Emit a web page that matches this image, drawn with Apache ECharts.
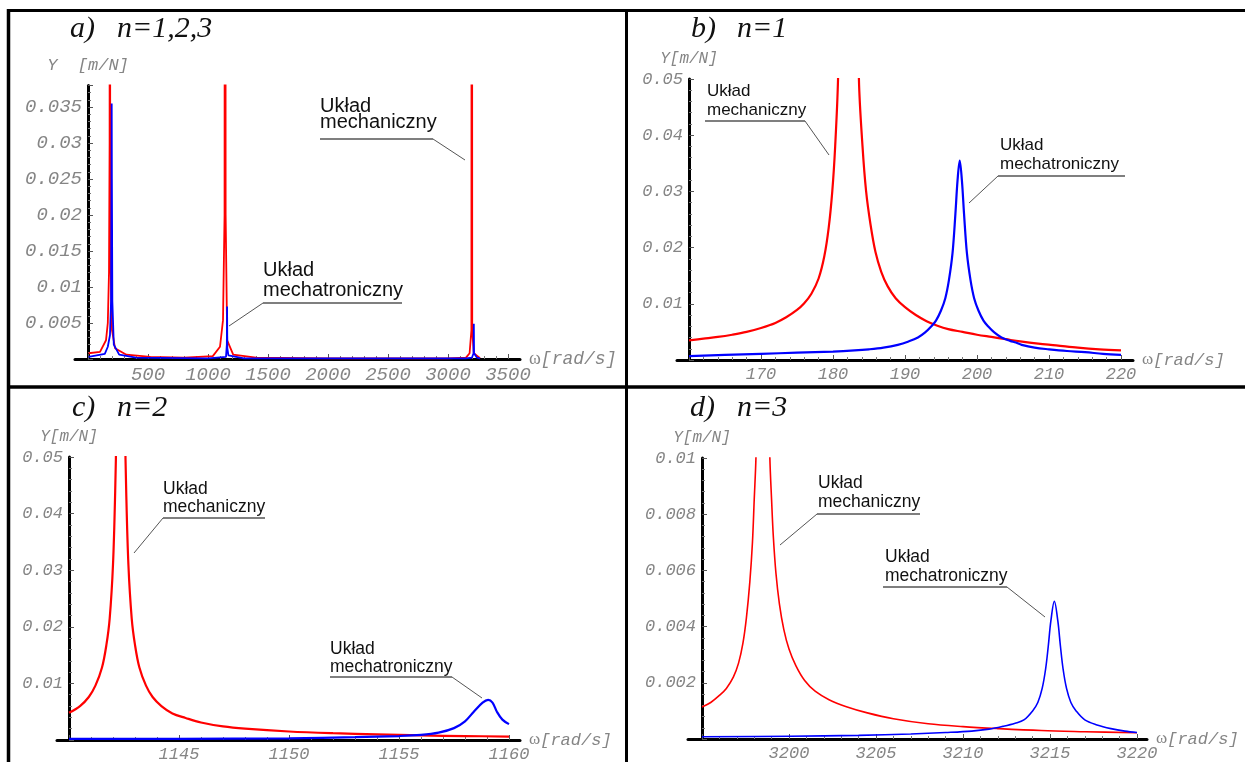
<!DOCTYPE html>
<html><head><meta charset="utf-8">
<script src="https://cdn.jsdelivr.net/npm/echarts@6/dist/echarts.min.js"></script>
<style>html,body{margin:0;padding:0;background:#fff}#c{width:1245px;height:762px}</style>
</head><body><div id="c"></div>
<script>
// ---------- DATA (omega [rad/s], Y [m/N]) ----------
// panel a) n=1,2,3 : mechanical (red) and mechatronic (blue)
const aMech = [[5,0.0008],[100,0.001],[150,0.0026],[165,0.005],[175,0.012],[180,0.03],[182.2,0.2],[185,0.03],[190,0.012],[200,0.004],[225,0.0015],[320,0.0006],[520,0.0003],[800,0.0002],[1040,0.0004],[1100,0.0017],[1125,0.0054],[1138,0.02],[1142.3,0.2],[1147,0.02],[1160,0.0026],[1210,0.0006],[1400,0.0002],[2000,0.0001],[3000,0.0001],[3150,0.0002],[3180,0.0008],[3195,0.004],[3198.5,0.2],[3202,0.004],[3215,0.0008],[3267,0.0001]];
const aMechatr = [[5,0.0003],[140,0.0007],[165,0.0017],[183,0.0033],[192,0.008],[196,0.025],[197.6,0.0355],[199,0.025],[203,0.008],[215,0.002],[260,0.0006],[400,0.0002],[1000,0.0001],[1150,0.0003],[1157,0.002],[1159,0.0073],[1161,0.0015],[1170,0.0005],[1300,0.0001],[3150,0.0001],[3200,0.0002],[3213,0.0008],[3215.2,0.0049],[3217,0.0008],[3240,0.0002],[3267,0.0001]];
// panel b) n=1
const bMech = [[160,0.0035],[162,0.0038],[164,0.0041],[166,0.0045],[168,0.005],[170,0.0057],[172,0.0066],[173.5,0.0076],[175,0.0089],[176,0.0101],[177,0.0118],[178,0.0145],[178.8,0.0185],[179.4,0.0235],[179.9,0.03],[180.3,0.038],[180.7,0.05],[181.5,0.1],[182.2,0.3],[183,0.1],[183.6,0.05],[184.1,0.038],[184.6,0.03],[185.2,0.0242],[185.9,0.0192],[186.7,0.0157],[187.6,0.0131],[188.7,0.011],[190,0.0094],[191.5,0.008],[193,0.0069],[194.5,0.0061],[196,0.0055],[198,0.005],[200,0.0045],[202,0.0041],[204,0.0037],[206,0.0033],[208.5,0.0029],[211,0.0026],[214,0.0022],[217,0.0019],[220,0.0017]];
const bMechatr = [[160,0.0007],[165,0.0009],[170,0.0011],[175,0.0013],[180,0.0015],[183,0.0017],[185,0.0019],[187,0.0022],[189,0.0027],[190.5,0.0033],[191.8,0.004],[192.8,0.0049],[193.6,0.0059],[194.3,0.007],[195,0.0088],[195.6,0.011],[196.1,0.0142],[196.6,0.019],[197,0.026],[197.3,0.032],[197.6,0.0355],[197.9,0.032],[198.2,0.026],[198.6,0.019],[199.1,0.0142],[199.6,0.011],[200.2,0.0088],[200.9,0.007],[201.6,0.0059],[202.4,0.0049],[203.4,0.004],[204.6,0.0034],[205.4,0.0031],[206.2,0.0027],[208,0.0022],[210,0.0019],[212.5,0.0016],[215,0.0014],[217.5,0.0011],[220,0.0009]];
// panel c) n=2
const cMech = [[1140,0.0048],[1140.5,0.006],[1140.9,0.0076],[1141.2,0.0096],[1141.5,0.0128],[1141.7,0.0168],[1141.85,0.0215],[1142,0.031],[1142.1,0.044],[1142.15,0.055],[1142.35,0.15],[1142.55,0.055],[1142.6,0.044],[1142.7,0.031],[1142.85,0.0215],[1143,0.0168],[1143.2,0.0128],[1143.5,0.0096],[1143.8,0.0076],[1144.2,0.006],[1144.7,0.0047],[1145.3,0.0039],[1146,0.0031],[1147,0.0024],[1148,0.002],[1150,0.0015],[1152,0.0012],[1154,0.001],[1156,0.0008],[1158,0.0007],[1160,0.0006]];
const cMechatr = [[1140,0.0002],[1145,0.0002],[1150,0.0003],[1153,0.0005],[1155,0.0007],[1156,0.0009],[1156.8,0.0013],[1157.5,0.0021],[1158,0.0033],[1158.4,0.005],[1158.8,0.0066],[1159.05,0.0071],[1159.25,0.0066],[1159.45,0.005],[1159.7,0.0036],[1160,0.0028]];
// panel d) n=3
const dMech = [[3195,0.00114],[3195.5,0.0013],[3196,0.00155],[3196.4,0.0018],[3196.8,0.0022],[3197.1,0.0027],[3197.35,0.0034],[3197.55,0.0043],[3197.75,0.0056],[3197.9,0.007],[3198,0.0085],[3198.1,0.01],[3198.2,0.013],[3198.5,0.04],[3198.8,0.013],[3198.9,0.01],[3199,0.0085],[3199.1,0.0072],[3199.25,0.0059],[3199.45,0.0048],[3199.7,0.0039],[3200,0.0032],[3200.4,0.0026],[3200.9,0.00208],[3201.5,0.0017],[3202.3,0.0014],[3203.3,0.00115],[3204.5,0.00093],[3206,0.00072],[3208,0.00054],[3210,0.00044],[3212,0.00037],[3214.5,0.0003],[3217,0.00026],[3220,0.00022]];
const dMechatr = [[3195,0.00008],[3200,0.0001],[3204,0.00013],[3207,0.00018],[3209,0.00023],[3210.5,0.00028],[3211.5,0.00035],[3212.3,0.00045],[3213,0.00056],[3213.5,0.00068],[3214,0.001],[3214.3,0.0013],[3214.55,0.0018],[3214.75,0.0025],[3214.9,0.0033],[3215.05,0.0042],[3215.25,0.0049],[3215.45,0.0042],[3215.6,0.0033],[3215.75,0.0025],[3215.95,0.0018],[3216.2,0.0013],[3216.5,0.001],[3217,0.00068],[3217.7,0.0005],[3218.5,0.00037],[3219.3,0.00028],[3220,0.00023]];

// axis ranges / tick steps
const xRanges = [[0,3500,500],[160,220,10],[1140,1160,5],[3195,3220,5]];
const yRanges = [[0,0.038,0.005],[0,0.05,0.01],[0,0.05,0.01],[0,0.01,0.002]];
const titlesLetter = ['a)','b)','c)','d)'];
const titlesN = ['n=1,2,3','n=1','n=2','n=3'];
const yNames = ['Y  [m/N]','Y[m/N]','Y[m/N]','Y[m/N]'];
const xName = '[rad/s]';
const annoTop = 'Układ';
const annoMech = 'mechaniczny';
const annoMechatr = 'mechatroniczny';

// ---------- LAYOUT ----------
const layout = [
  {left:88, top:85.5, width:420, height:273.5, dLeft:75, dWidth:445, fs:19, nfs:17, lw:1.8, sm:false},
  {left:689, top:79, width:432, height:281, dLeft:677, dWidth:456, fs:17, nfs:16, lw:2.2, sm:0.35},
  {left:69, top:457, width:440, height:283, dLeft:57, dWidth:463, fs:17, nfs:16, lw:2.2, sm:0.35},
  {left:702, top:458, width:435, height:281, dLeft:688, dWidth:459, fs:17, nfs:16, lw:1.6, sm:0.35}
];
const seriesData = [[aMech,aMechatr],[bMech,bMechatr],[cMech,cMechatr],[dMech,dMechatr]];
const tickGray = '#858585';
const mono = '"Liberation Mono","Courier New",monospace';

function fmt(min, iv){
  return function(v){
    if (Math.abs(v-min) < iv*1e-6) return '';
    const k = Math.round(v/iv);
    if (Math.abs(v-k*iv) > iv*1e-6) return '';
    return String(parseFloat(v.toFixed(6)));
  };
}

const grid=[], xAxis=[], yAxis=[], series=[];
layout.forEach((L,i)=>{
  const [x0,x1,xi] = xRanges[i], [y0,y1,yi] = yRanges[i];
  grid.push({left:L.left, top:L.top, width:L.width, height:L.height, containLabel:false, outerBoundsMode:'none'});
  grid.push({left:L.dLeft, top:L.top, width:L.dWidth, height:L.height, containLabel:false, outerBoundsMode:'none'});
  const gm = 2*i, gd = 2*i+1;
  const lab = (size)=>({fontFamily:mono, fontStyle:'italic', fontSize:size, color:tickGray});
  xAxis.push({gridIndex:gm, type:'value', min:x0, max:x1, interval:xi,
    axisLine:{show:false}, splitLine:{show:false},
    axisTick:{show:true, inside:true, length:5, lineStyle:{color:'#555', width:1}},
    minorTick:{show:true, splitNumber:5, length:3, lineStyle:{color:'#777', width:1}},
    axisLabel:Object.assign({formatter:fmt(x0,xi), margin:6, showMinLabel:true, showMaxLabel:true}, lab(L.fs))});
  yAxis.push({gridIndex:gm, type:'value', min:y0, max:y1, interval:yi,
    axisLine:{show:true, onZero:false, lineStyle:{color:'#000', width:3}}, splitLine:{show:false},
    axisTick:{show:true, inside:true, length:5, lineStyle:{color:'#555', width:1}},
    minorTick:{show:true, splitNumber:5, length:3, lineStyle:{color:'#777', width:1}},
    axisLabel:Object.assign({formatter:fmt(y0,yi), margin:6, showMinLabel:true, showMaxLabel:true}, lab(L.fs)),
    name:yNames[i], nameLocation:'end', nameGap:12,
    nameTextStyle:{fontFamily:mono, fontStyle:'italic', fontSize:L.nfs, color:tickGray, align:'center'}});
  xAxis.push({gridIndex:gd, type:'value', min:0, max:1,
    axisLine:{show:true, onZero:false, lineStyle:{color:'#000', width:3}},
    axisTick:{show:false}, axisLabel:{show:false}, splitLine:{show:false},
    name:'{w|ω}{r|'+xName+'}', nameLocation:'end', nameGap:9,
    nameTextStyle:{rich:{w:{fontFamily:'"Liberation Serif",serif', fontSize:L.nfs+1, color:tickGray},
                         r:{fontFamily:mono, fontStyle:'italic', fontSize:L.nfs+1, color:tickGray}}}});
  yAxis.push({gridIndex:gd, type:'value', min:0, max:1, show:false});
  const cols = ['#ff0000','#0000ff'];
  seriesData[i].forEach((d,j)=>{
    series.push({type:'line', xAxisIndex:gm, yAxisIndex:gm, data:d, showSymbol:false, symbol:'none',
      clip:true, smooth:L.sm, lineStyle:{color:cols[j], width:L.lw}, z:3+j, animation:false});
  });
});

// ---------- GRAPHIC: frame, titles, annotations ----------
const G = [];
const line = (x1,y1,x2,y2,w,c)=>G.push({type:'line', silent:true, z:10, shape:{x1,y1,x2,y2}, style:{stroke:c, lineWidth:w}});
line(7,10.5,1245,10.5,3,'#000');
line(8.5,9,8.5,762,3.5,'#000');
line(626.5,9,626.5,762,3,'#000');
line(7,387,1245,387,3.5,'#000');
const txt = (s,x,y,font,color)=>G.push({type:'text', silent:true, z:10, style:{text:s, x, y, font, fill:color, align:'left', verticalAlign:'middle', textAlign:'left', textVerticalAlign:'middle'}});
const titlePos = [[70,117,29],[691,737,29],[72,117,408],[690,737,408]];
titlePos.forEach((p,i)=>{
  txt(titlesLetter[i], p[0], p[2], 'italic 30px "Liberation Serif"', '#111');
  txt(titlesN[i], p[1], p[2], 'italic 30px "Liberation Serif"', '#111');
});
const annos = [
  {t:annoMech, x:320, y1:106, y2:122, fs:20, ul:[320,433,139], ld:[433,139,465,160]},
  {t:annoMechatr, x:263, y1:270, y2:290, fs:20, ul:[263,402,303], ld:[263,303,229,326]},
  {t:annoMech, x:707, y1:91, y2:110, fs:17, ul:[705,805,121], ld:[805,121,829,155]},
  {t:annoMechatr, x:1000, y1:145, y2:164, fs:17, ul:[998,1125,176], ld:[998,176,969,203]},
  {t:annoMech, x:163, y1:489, y2:507, fs:17.5, ul:[163,265,518], ld:[163,518,134,553]},
  {t:annoMechatr, x:330, y1:649, y2:667, fs:17.5, ul:[330,452,677], ld:[452,677,482,698]},
  {t:annoMech, x:818, y1:483, y2:502, fs:17.5, ul:[817,920,514], ld:[817,514,780,545]},
  {t:annoMechatr, x:885, y1:557, y2:576, fs:17.5, ul:[883,1007,587], ld:[1007,587,1045,617]}
];
annos.forEach(a=>{
  const f = a.fs+'px "Liberation Sans",Arial,sans-serif';
  txt(annoTop, a.x, a.y1, f, '#111');
  txt(a.t, a.x, a.y2, f, '#111');
  line(a.ul[0], a.ul[2], a.ul[1], a.ul[2], 1.3, '#555');
  line(a.ld[0], a.ld[1], a.ld[2], a.ld[3], 1, '#555');
});

const chart = echarts.init(document.getElementById('c'), null, {renderer:'canvas'});
chart.setOption({animation:false, backgroundColor:'#fff', grid, xAxis, yAxis, series, graphic:{elements:G}});
</script></body></html>
